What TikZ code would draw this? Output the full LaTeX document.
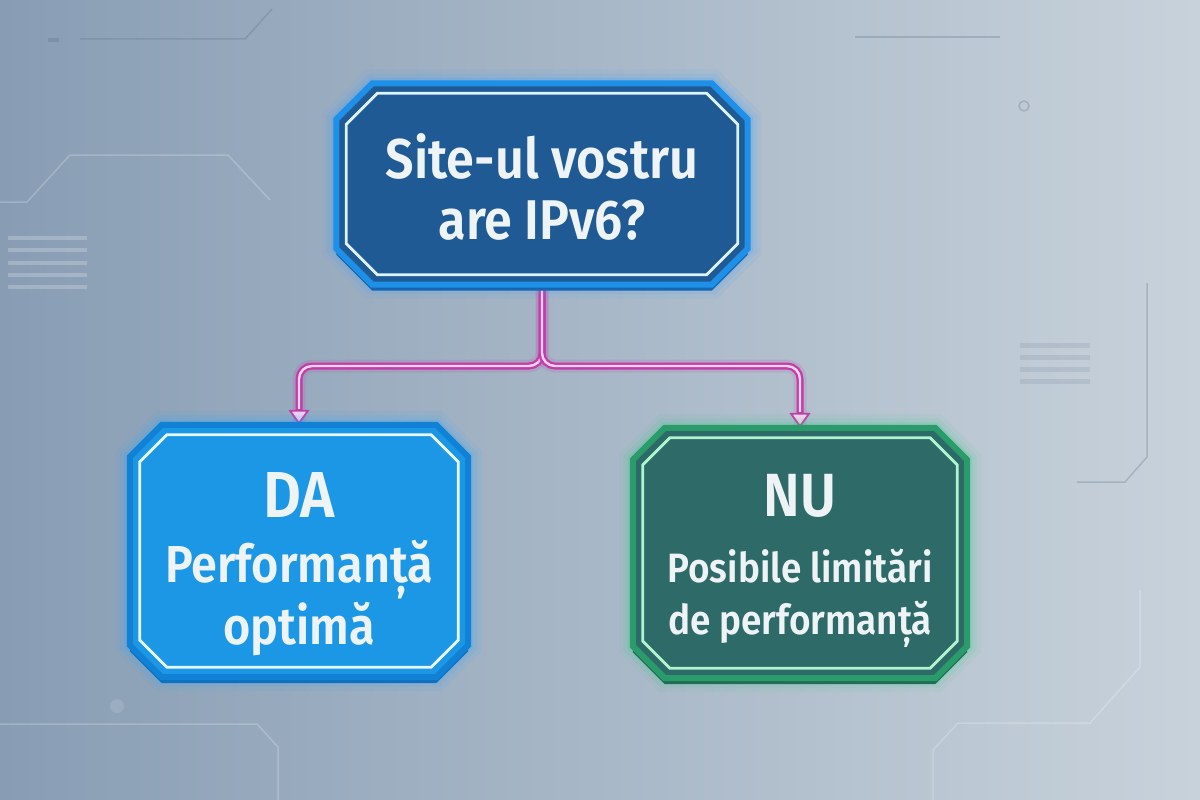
\documentclass[tikz,border=0pt]{standalone}
\usepackage{fontspec}
\setmainfont{Fira Sans}[UprightFont={* SemiBold}, FakeStretch=0.9]
\usetikzlibrary{calc,arrows.meta,backgrounds}

\definecolor{bgleft}{HTML}{889DB4}
\definecolor{bgright}{HTML}{C8D2DB}
\definecolor{decodeep}{HTML}{5E7388}
\definecolor{linkmag}{HTML}{C23DA8}
\definecolor{linkpink}{HTML}{F8D4F0}
% top box
\definecolor{topglow}{HTML}{3AA0FF}
\definecolor{topedge}{HTML}{1565B0}
\definecolor{topfill}{HTML}{1F5A95}
\definecolor{topborder}{HTML}{1E90E8}
\definecolor{topinner}{HTML}{DDF3FF}
% DA box
\definecolor{daglow}{HTML}{2AA8FF}
\definecolor{daedge}{HTML}{0F6FC0}
\definecolor{dafill}{HTML}{1B97E6}
\definecolor{daborder}{HTML}{1181D6}
\definecolor{dainner}{HTML}{E8F8FF}
% NU box
\definecolor{nuglow}{HTML}{3CC88C}
\definecolor{nuedge}{HTML}{1F6E55}
\definecolor{nufill}{HTML}{2D6A68}
\definecolor{nuborder}{HTML}{2A9C6C}
\definecolor{nuinner}{HTML}{B0F5CF}
\definecolor{boxwhite}{HTML}{EEF3F6}

% octagon round a node: name, inset, chamfer
\newcommand\octo[3]{($(#1.north west)+({#2+#3},#2)$) -- ($(#1.north east)+({-#2-#3},#2)$) -- ($(#1.north east)+(-#2,{#2+#3})$) -- ($(#1.south east)+(-#2,{-#2-#3})$) -- ($(#1.south east)+({-#2-#3},-#2)$) -- ($(#1.south west)+({#2+#3},-#2)$) -- ($(#1.south west)+(#2,{-#2-#3})$) -- ($(#1.north west)+(#2,{#2+#3})$) -- cycle}
% glow, edge, fill and inner line of a box: name, chamfer, inner chamfer
\newcommand\drawbox[3]{%
  \foreach \w/\o in {28/0.07,19/0.11,11/0.18}
    \draw[#1glow, line width=\w pt, opacity=\o] \octo{#1}{0}{#2};
  \fill[#1edge, transform canvas={yshift=-6pt}] \octo{#1}{0}{#2};
  \filldraw[fill=#1fill, draw=#1border, line width=6pt] \octo{#1}{0}{#2};
  \draw[#1inner, line width=2.8pt] \octo{#1}{10}{#3};
}

\begin{document}
\begin{tikzpicture}[x=1pt,y=-1pt,line cap=round,line join=round,
  boxarea/.style={inner sep=0pt},
  boxtext/.style={inner sep=0pt,align=center,text=boxwhite},
  decodark/.style={draw=decodeep,line width=1.5pt,opacity=0.3},
  decolight/.style={draw=white,line width=1.5pt,opacity=0.22},
  linkglow/.style={draw=linkmag,line width=13pt,opacity=0.15,rounded corners=13pt},
  linkline/.style={draw=linkmag,line width=7pt,rounded corners=13pt,
    -{Triangle[width=21pt,length=15pt,line width=1.8pt,fill=linkpink]}},
  linkcore/.style={draw=linkpink,line width=2.4pt,rounded corners=13pt,shorten >=16pt}]
\useasboundingbox (0,0) rectangle (1200,800);

% the three boxes
\node[boxarea,minimum width=411pt,minimum height=201pt] (top) at (542,184) {};
\node[boxarea,minimum width=338pt,minimum height=252pt] (da) at (299,551) {};
\node[boxarea,minimum width=334pt,minimum height=250pt] (nu) at (800,553) {};
\coordinate (fork) at (542,366);

% their texts
\node[boxtext,font=\fontsize{56}{61}\selectfont] (toptext) at ($(top)+(0,3)$) {Site-ul vostru\\are IPv6?};
\node[boxtext,font=\fontsize{52}{57}\selectfont] (datext) at ($(da)+(0,13)$) {{\fontsize{65}{65}\selectfont DA}\\[8pt]Performanță\\[2pt]optimă};
\node[boxtext,font=\fontsize{41}{50}\selectfont] (nutext) at ($(nu)+(0,8)$) {{\fontsize{61}{61}\selectfont NU}\\[16pt]Posibile limitări\\[2pt]de performanță};

\begin{pgfonlayer}{background}
\shade[left color=bgleft,right color=bgright] (0,0) rectangle (1200,800);
% faint lines of the backdrop
\draw[decodark] (80,39) -- (245,39) -- (272,9);
\draw[decodark,line width=4pt] (48,40) -- (59,40);
\draw[decolight] (0,202) -- (27,202) -- (70,155) -- (228,155) -- (270,200);
\foreach \y in {238,250,263,275,287}
  \draw[decolight,line width=4pt] (8,\y) -- (87,\y);
\draw[decodark] (855,37) -- (1000,37);
\draw[decodark] (1024,106) circle (5);
\foreach \y in {345,357,369,381}
  \draw[decodark,line width=5pt,opacity=0.15] (1020,\y) -- (1090,\y);
\draw[decodark] (1147,283) -- (1147,457) -- (1125,482) -- (1077,482);
\draw[decolight] (1140,590) -- (1140,667) -- (1090,723) -- (958,723) -- (933,750) -- (933,800);
\draw[decolight] (0,724) -- (257,724) -- (278,747) -- (278,800);
\fill[white,opacity=0.12] (117,706) circle (7);

\foreach \t in {da,nu}{
  \draw[linkglow] (top.south) |- (fork -| \t.north) -- (\t.north);
  \draw[linkline] (top.south) |- (fork -| \t.north) -- (\t.north);
  \draw[linkcore] (top.south) |- (fork -| \t.north) -- (\t.north);
}

\drawbox{top}{36}{31}
\drawbox{da}{32}{27}
\drawbox{nu}{32}{27}
\end{pgfonlayer}
\end{tikzpicture}
\end{document}
